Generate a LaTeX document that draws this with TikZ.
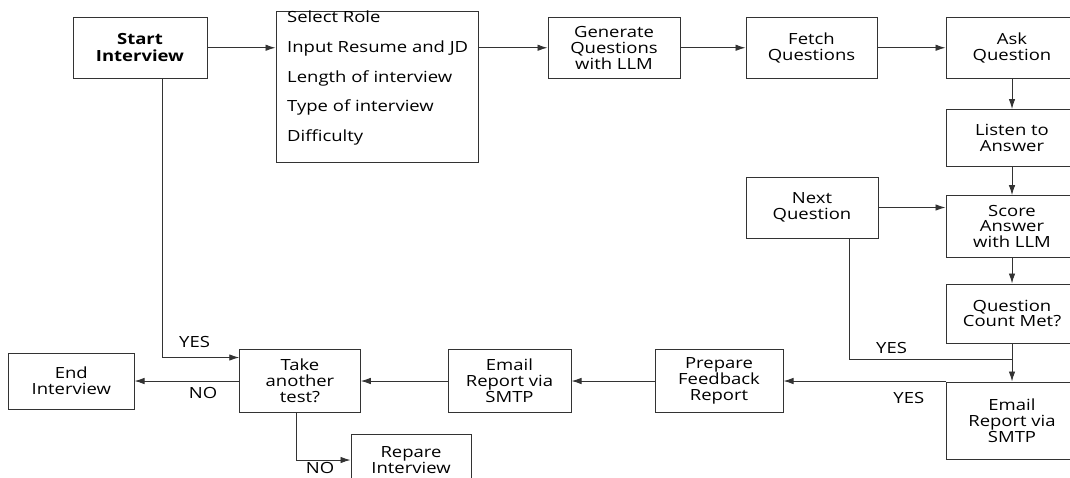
\documentclass[tikz,border=0pt]{standalone}
\usepackage{fontspec}
\setmainfont{Open Sans}[FakeStretch=1.2]
\usetikzlibrary{arrows.meta,calc,positioning}

\newcommand{\boxfont}{\fontsize{15.4}{15.8}\selectfont}

\begin{document}
\begin{tikzpicture}[x=1pt,y=-1pt]

\tikzset{stepbox/.style={draw=black!80,line width=1pt,align=center,inner sep=0pt,
  minimum width=132pt,minimum height=61.5pt,font=\boxfont},
flowarrow/.style={draw=black!80,line width=0.9pt,-{Latex[length=10pt,width=6.5pt]}},
flowline/.style={draw=black!80,line width=0.9pt},
itemtext/.style={anchor=west,inner sep=0pt,font=\boxfont},
nodelabel/.style={inner sep=0pt,font=\boxfont}}

\useasboundingbox (0,0) rectangle (1070,477);
\clip (0,0) rectangle (1070,477);

% Top row
\node (start) [stepbox,minimum width=134pt,font=\bfseries\fontsize{15.4}{17}\selectfont] at (140,47.75) {Start\\Interview};
\node (setup) [stepbox,minimum width=202pt,minimum height=151.5pt] at (377,86.75) {};
\node (gen) [stepbox] at (614,47.75) {Generate\\Questions\\with LLM};
\node (fetch) [stepbox,minimum width=131pt] at (811.5,47.75) {Fetch\\Questions};
\node (ask) [stepbox] at (1012,47.75) {Ask\\Question};

% Setup options
\foreach \i/\txt/\yy in {1/Select Role/17, 2/Input Resume and JD/48, 3/Length of interview/78.5,
  4/Type of interview/107.5, 5/Difficulty/137}
  \node[itemtext] (item\i) at (287,\yy) {\txt};

% Right column
\node (listen) [stepbox,minimum height=56.5pt] at (1012,137.75) {Listen to\\Answer};
\node (next) [stepbox,minimum height=61pt] at (812,207.5) {Next\\Question};
\node (score) [stepbox,minimum height=61.4pt] at (1012,226.3) {Score\\Answer\\with LLM};
\node (count) [stepbox,minimum height=59pt] at (1012,313.5) {Question\\Count Met?};
\node (email2) [stepbox,minimum height=77pt] at (1012,420.5) {Email\\Report via\\SMTP};

% Bottom row
\node (prep) [stepbox,minimum width=128pt,minimum height=63pt] at (719,381) {Prepare\\Feedback\\Report};
\node (email1) [stepbox,minimum width=123pt,minimum height=63pt] at (509.5,381) {Email\\Report via\\SMTP};
\node (take) [stepbox,minimum width=120.5pt,minimum height=63pt] at (300,381) {Take\\another\\test?};
\node (endi) [stepbox,minimum width=125.4pt,minimum height=56pt] at (71.3,381) {End\\Interview};
\node (repare) [stepbox,minimum width=120pt,minimum height=51pt] at (411,460) {Repare\\Interview};

% Branch labels
\foreach \u/\lab/\pos in {yesA/YES/{(194.6,341.6)}, noA/NO/{(203,393)}, noB/NO/{(320,467.5)},
  yesB/YES/{(891.6,347.8)}, yesC/YES/{(908.8,398)}}
  \node[nodelabel] (\u) at \pos {\lab};

%% Edges
\draw[flowarrow] (start.east) -- (start.east -| setup.west);
\draw[flowarrow] (gen.west -| setup.east) -- (gen.west);
\foreach \a/\b in {gen/fetch, fetch/ask, ask/listen, listen/score, score/count, count/email2,
  prep/email1, email1/take, take/endi}
  \draw[flowarrow] (\a) -- (\b);
\draw[flowarrow] (next.east) -- (next.east -| score.west);
\draw[flowarrow] (email2.west |- prep.east) -- (prep.east);

% Loop back and restart
\coordinate (merge) at ($(count.south)+(0,15.8)$);
\draw[flowline] ([xshift=37.6pt]next.south) |- (merge);
\draw[flowarrow] ([xshift=22pt]start.south) |- ([yshift=-8.5pt]take.north west);
\draw[flowarrow] ([xshift=-4pt]take.south) |- (repare.west);
\end{tikzpicture}
\end{document}
